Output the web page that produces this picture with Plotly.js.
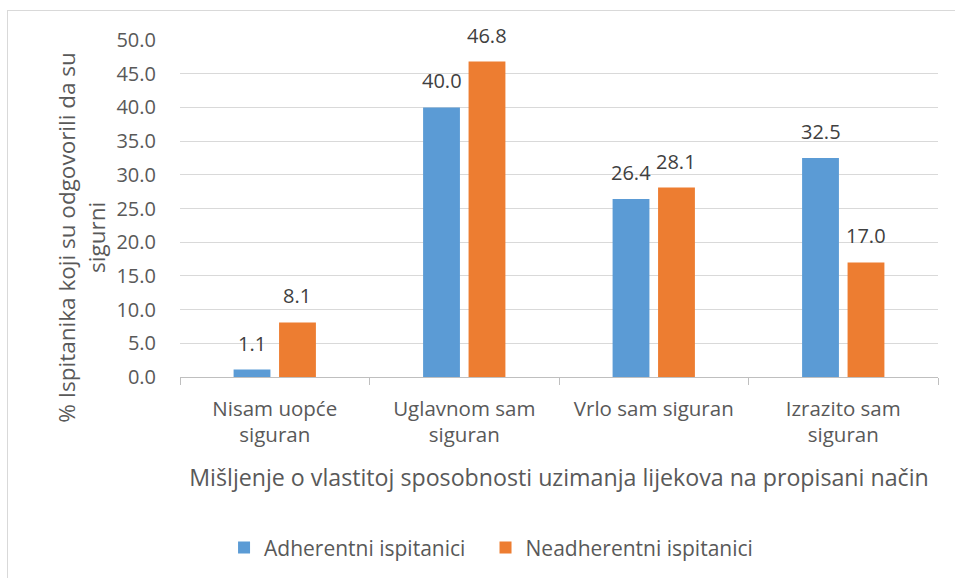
<!DOCTYPE html>
<html>
<head>
<meta charset="utf-8">
<script src="https://cdn.plot.ly/plotly-3.0.1.min.js"></script>
<style>
html,body{margin:0;padding:0;background:#fff;}
#frame{position:absolute;left:7px;top:10px;width:1000px;height:1000px;border:1px solid #d9d9d9;}
#chart{position:absolute;left:0;top:0;width:955px;height:578px;}
</style>
</head>
<body>
<div id="frame"></div>
<div id="chart"></div>
<script>
const categories = ["Nisam uopće<br>siguran", "Uglavnom sam<br>siguran", "Vrlo sam siguran", "Izrazito sam<br>siguran"];
const seriesNames = ["Adherentni ispitanici", "Neadherentni ispitanici"];
const adherentni = [1.1, 40.0, 26.4, 32.5];
const neadherentni = [8.1, 46.8, 28.1, 17.0];
const yTickVals = [0, 5, 10, 15, 20, 25, 30, 35, 40, 45, 50];
const yTitle = "% Ispitanika koji su odgovorili da su<br>sigurni";
const xTitle = "Mišljenje o vlastitoj sposobnosti uzimanja lijekova na propisani način";

const font = "'Open Sans', sans-serif";
const colors = ["#5b9bd5", "#ed7d31"];
const seriesValues = [adherentni, neadherentni];
const legendIds = ["legend", "legend2"];

const data = seriesValues.map((y, i) => ({
  type: "bar",
  name: seriesNames[i],
  x: categories,
  y: y,
  marker: {color: colors[i]},
  legend: legendIds[i],
  hoverinfo: "x+y"
}));

// value labels above bars, positioned via the axes
const bargap = 0.52, catPx = 758 / 4;
const slotShift = catPx * (1 - bargap) / 4;
const annotations = [];
seriesValues.forEach((vals, i) => {
  vals.forEach((v, j) => {
    annotations.push({
      x: categories[j], y: v, xref: "x", yref: "y",
      text: v.toFixed(1), showarrow: false,
      xanchor: "center", yanchor: "bottom",
      xshift: (i === 0 ? -1 : 1) * slotShift, yshift: 11,
      font: {family: font, size: 20, color: "#404040"}
    });
  });
});

// y-axis title (placed lower than plot centre, as in the original)
annotations.push({
  x: 0, y: 0.415, xref: "paper", yref: "paper",
  xanchor: "center", yanchor: "middle", xshift: -98.5,
  text: yTitle, textangle: -90, showarrow: false,
  font: {family: font, size: 22.5, color: "#595959"}
});

const legendBase = {orientation: "h", xref: "container", yref: "container",
  xanchor: "left", y: 0.052, yanchor: "middle",
  font: {family: font, size: 21, color: "#595959"}, itemwidth: 30, bgcolor: "rgba(0,0,0,0)"};

const layout = {
  width: 955, height: 578,
  margin: {l: 180, r: 17, t: 40, b: 201},
  paper_bgcolor: "rgba(0,0,0,0)",
  plot_bgcolor: "rgba(0,0,0,0)",
  font: {family: font, color: "#595959", size: 20},
  barmode: "group",
  bargap: bargap,
  bargroupgap: 0.19,
  showlegend: true,
  legend: Object.assign({}, legendBase, {x: 0.2346}),
  legend2: Object.assign({}, legendBase, {x: 0.5084}),
  annotations: annotations,
  xaxis: {
    type: "category",
    showgrid: false,
    showline: true, linecolor: "#bfbfbf", linewidth: 1,
    ticks: "outside", tickson: "boundaries", ticklen: 7, tickcolor: "#bfbfbf",
    ticklabelstandoff: 13,
    tickfont: {family: font, size: 20.5, color: "#595959"},
    title: {text: xTitle, font: {family: font, size: 23.2, color: "#595959"}, standoff: 22},
    automargin: false
  },
  yaxis: {
    range: [0, 50],
    tickvals: yTickVals,
    ticktext: yTickVals.map(v => v.toFixed(1)),
    showgrid: true, gridcolor: "#d9d9d9", gridwidth: 1,
    zeroline: false, showline: false,
    ticks: "", ticklabelstandoff: 23,
    tickfont: {family: font, size: 20, color: "#595959"},
    automargin: false
  }
};

Plotly.newPlot("chart", data, layout, {displayModeBar: false, staticPlot: true});
</script>
</body>
</html>
